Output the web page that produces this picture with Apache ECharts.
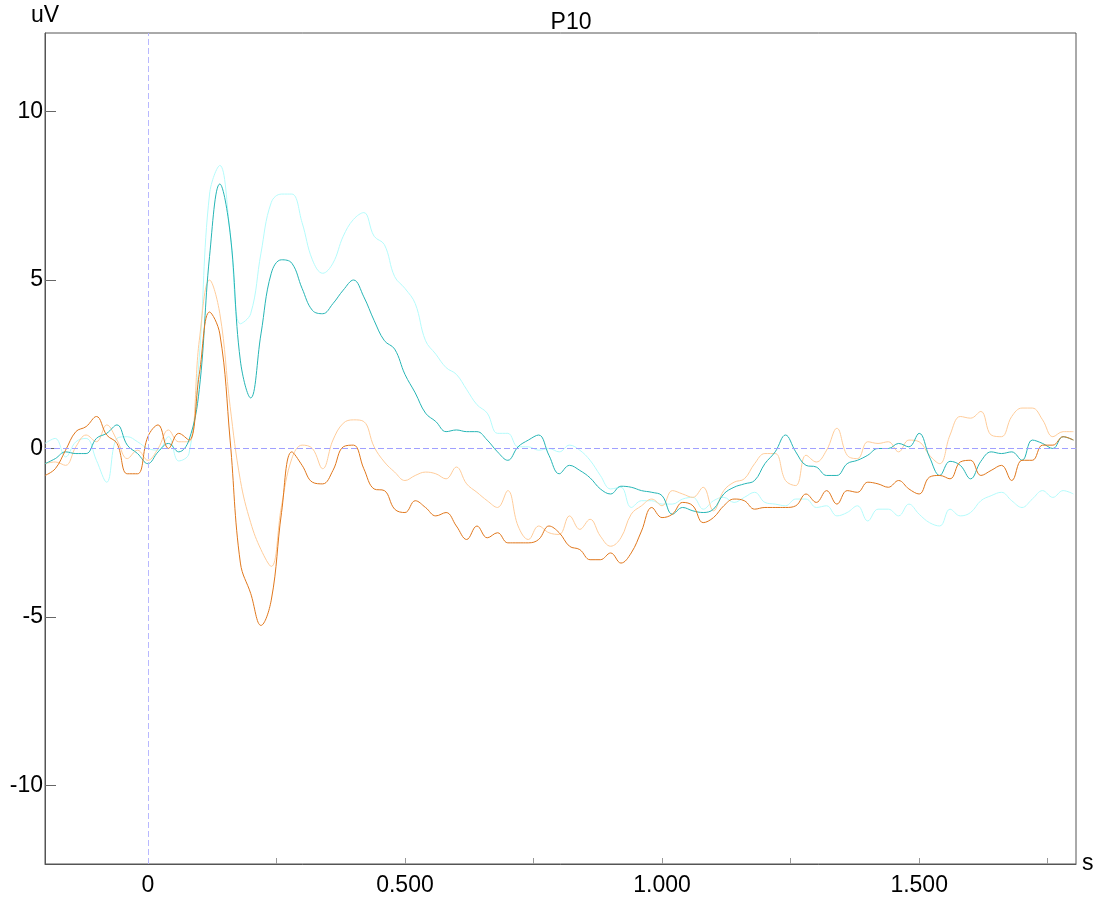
<!DOCTYPE html>
<html>
<head>
<meta charset="utf-8">
<script src="https://cdn.jsdelivr.net/npm/echarts@6/dist/echarts.min.js"></script>
<style>
html, body { margin: 0; padding: 0; background: #fff; }
#chart { width: 1094px; height: 901px; }
</style>
</head>
<body>
<div id="chart"></div>
<script>
// time base: -0.2 s to 1.8 s, one value every 20 ms
var T0 = -0.2
var DT = 0.02

var darkCyan = [-0.45, -0.3, -0.1, -0.15, -0.15, 0.3, 0.45, 0.7, 0.1, -0.15,
  -0.45, -0.1, 0.15, -0.1, 0.25, 1.75, 5.7, 7.85, 6.4, 2.6,
  1.5, 3.4, 5.2, 5.6, 5.5, 4.75, 4.1, 4.0, 4.3, 4.7,
  5.0, 4.5, 3.8, 3.2, 2.95, 2.2, 1.65, 1.05, 0.8, 0.5,
  0.55, 0.5, 0.5, 0.25, -0.1, -0.35, 0.05, 0.25, 0.4, -0.2,
  -0.75, -0.5, -0.65, -0.87, -1.2, -1.35, -1.12, -1.15, -1.25, -1.3,
  -1.4, -1.95, -1.75, -1.85, -1.9, -1.8, -1.35, -1.15, -1.05, -0.95,
  -0.45, -0.1, 0.4, -0.1, -0.5, -0.55, -0.8, -0.8, -0.45, -0.35,
  -0.2, 0.0, 0.0, 0.15, 0.05, 0.45, -0.25, -0.8, -0.38, -0.5,
  -0.9, -0.38, -0.1, -0.15, -0.1, -0.35, 0.25, 0.15, 0.0, 0.35, 0.25]

var lightCyan = [0.15, 0.3, -0.25, 0.2, 0.3, -0.35, -1.0, 0.3, 0.35, 0.2,
  0.0, -0.05, 0.35, -0.37, -0.15, 2.7, 7.55, 8.4, 6.4, 3.7,
  4.0, 5.8, 7.3, 7.55, 7.55, 6.7, 5.6, 5.2, 5.5, 6.3,
  6.8, 7.0, 6.3, 6.05, 5.1, 4.75, 4.3, 3.2, 2.8, 2.4,
  2.2, 1.75, 1.3, 1.05, 0.45, 0.45, 0.05, 0.05, -0.05, 0.0,
  -0.1, 0.1, -0.05, -0.35, -0.8, -1.2, -1.15, -1.75, -1.55, -1.55,
  -1.65, -1.65, -1.5, -1.45, -1.8, -1.55, -1.45, -1.6, -1.45, -1.3,
  -1.6, -1.65, -1.7, -1.5, -1.5, -1.75, -1.7, -2.0, -1.9, -1.7,
  -2.15, -1.8, -1.8, -2.0, -1.65, -1.95, -2.2, -2.3, -1.8, -2.0,
  -1.9, -1.55, -1.4, -1.3, -1.55, -1.75, -1.5, -1.25, -1.45, -1.25, -1.35]

var darkOrange = [-0.8, -0.6, -0.05, 0.5, 0.65, 0.95, 0.4, 0.15, -0.75, -0.75,
  0.35, 0.7, 0.0, 0.45, 0.25, 2.2, 4.05, 3.4, 0.25, -3.4,
  -4.3, -5.25, -4.5, -1.9, -0.1, -0.5, -1.0, -1.05, -0.65, 0.05,
  0.1, -0.6, -1.2, -1.25, -1.8, -1.9, -1.55, -1.75, -2.0, -1.9,
  -2.3, -2.7, -2.3, -2.65, -2.5, -2.8, -2.8, -2.8, -2.7, -2.3,
  -2.5, -2.9, -3.0, -3.3, -3.3, -3.1, -3.4, -3.1, -2.45, -1.75,
  -2.05, -1.95, -1.6, -1.7, -2.2, -2.05, -1.7, -1.5, -1.55, -1.8,
  -1.75, -1.75, -1.75, -1.7, -1.35, -1.6, -1.25, -1.65, -1.25, -1.3,
  -1.0, -1.05, -1.15, -0.95, -1.2, -1.35, -0.85, -0.8, -0.9, -0.4,
  -0.35, -0.8, -0.65, -0.5, -0.95, -0.35, -0.35, 0.1, 0.1, 0.35, 0.25]

var lightOrange = [-0.45, -0.4, -0.5, 0.05, 0.4, 0.2, 0.7, 0.25, -0.3, -0.05,
  -0.35, 0.0, 0.55, 0.2, 0.2, 3.2, 5.0, 4.0, 1.25, -0.95,
  -2.2, -3.0, -3.5, -1.7, -0.3, 0.1, 0.0, -0.6, 0.25, 0.75,
  0.85, 0.8, 0.05, -0.4, -0.7, -0.95, -0.8, -0.7, -0.75, -0.9,
  -0.55, -1.05, -1.3, -1.55, -1.75, -1.25, -2.3, -2.7, -2.3, -2.5,
  -2.55, -2.0, -2.4, -2.1, -2.6, -2.9, -2.65, -1.95, -1.7, -1.5,
  -1.7, -1.25, -1.35, -1.45, -1.15, -1.85, -1.25, -1.0, -0.9, -0.45,
  -0.15, -0.15, -0.95, -1.1, -0.2, -0.4, -0.05, 0.6, -0.2, -0.3,
  0.2, 0.15, 0.2, -0.1, 0.25, 0.2, -0.2, -0.45, 0.4, 0.95,
  0.9, 1.1, 0.4, 0.35, 0.95, 1.2, 1.2, 0.85, 0.35, 0.5, 0.5]

var xTicks = [0.25, 0.5, 0.75, 1.0, 1.25, 1.5, 1.75]
var xLabels = [0, 0.5, 1.0, 1.5]
var yTicks = [-10, -5, 0, 5, 10]

function pairs (values) {
  return values.map(function (v, i) {
    return [+(T0 + i * DT).toFixed(2), v]
  })
}

var font = 'Liberation Sans, Arial, sans-serif'

function line (name, values, color) {
  return {
    name: name,
    type: 'line',
    data: pairs(values),
    showSymbol: false,
    smooth: 0.4,
    silent: true,
    lineStyle: { color: color, width: 1 },
    itemStyle: { color: color }
  }
}

function refLine (item, color) {
  return {
    silent: true,
    symbol: 'none',
    label: { show: false },
    animation: false,
    lineStyle: { color: color, type: [6, 3], width: 1 },
    data: [item]
  }
}

var chart = echarts.init(document.getElementById('chart'))
var lc = line('light cyan', lightCyan, '#b4fbfb')
lc.markLine = refLine({ xAxis: 0 }, '#b8b8ff')
var lo = line('light orange', lightOrange, '#ffcc9a')
lo.markLine = refLine({ yAxis: 0 }, '#a0a0ff')

chart.setOption({
  animation: false,
  title: {
    text: 'P10',
    left: 566,
    top: 6,
    textAlign: 'center',
    textStyle: { fontFamily: font, fontSize: 23, fontWeight: 'normal', color: '#000' }
  },
  grid: {
    left: 45,
    top: 33,
    right: 18,
    bottom: 37,
    outerBoundsMode: 'none',
    containLabel: false,
    show: true,
    borderColor: '#555',
    borderWidth: 1
  },
  xAxis: {
    type: 'value',
    min: -0.2,
    max: 1.805,
    name: 's',
    nameLocation: 'end',
    nameGap: 6,
    nameTextStyle: { fontFamily: font, fontSize: 23, color: '#000', verticalAlign: 'middle', align: 'left' },
    axisLine: { onZero: false, lineStyle: { color: '#555' } },
    axisTick: { inside: true, length: 6, customValues: xTicks, lineStyle: { color: '#999' } },
    axisLabel: {
      customValues: xLabels,
      margin: 10,
      fontFamily: font,
      fontSize: 23,
      color: '#000',
      formatter: function (v) { return v === 0 ? '0' : v.toFixed(3) }
    },
    splitLine: { show: false }
  },
  yAxis: {
    type: 'value',
    min: -12.33,
    max: 12.33,
    name: 'uV',
    nameLocation: 'end',
    nameGap: 6,
    nameTextStyle: { fontFamily: font, fontSize: 23, color: '#000' },
    axisLine: { onZero: false, lineStyle: { color: '#555' } },
    axisTick: { inside: true, length: 11, customValues: yTicks, lineStyle: { color: '#666' } },
    axisLabel: {
      customValues: yTicks,
      margin: 2,
      fontFamily: font,
      fontSize: 23,
      color: '#000'
    },
    splitLine: { show: false }
  },
  series: [
    lc,
    lo,
    line('dark cyan', darkCyan, '#26b5b5'),
    line('dark orange', darkOrange, '#e0771c')
  ]
})
</script>
</body>
</html>
